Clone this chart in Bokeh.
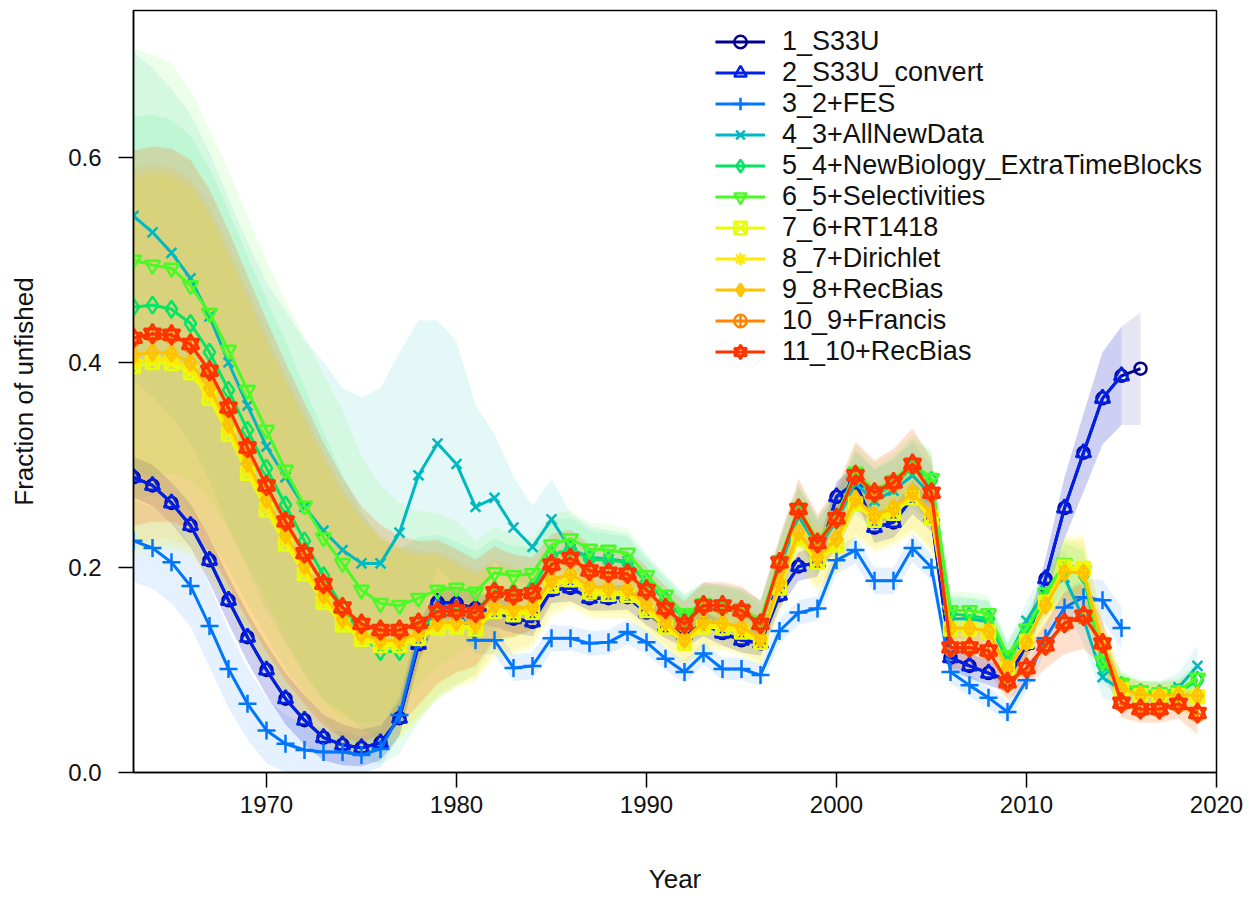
from bokeh.plotting import figure
from bokeh.models import Range1d, FixedTicker, PrintfTickFormatter, Legend, LegendItem
from bokeh.embed import file_html
from bokeh.resources import INLINE

years = list(range(1963, 2020))

labels = ["1_S33U", "2_S33U_convert", "3_2+FES", "4_3+AllNewData",
          "5_4+NewBiology_ExtraTimeBlocks", "6_5+Selectivities", "7_6+RT1418",
          "8_7+Dirichlet", "9_8+RecBias", "10_9+Francis", "11_10+RecBias"]
colors = ["#000091", "#0020E6", "#0076FC", "#00B8BF", "#04E465", "#49FB25",
          "#E7FD09", "#FEEA02", "#FFC200", "#FF8500", "#FF3300"]

# fraction of unfished, one list per model (1963 onward)
frac_1 = [0.288, 0.280, 0.263, 0.241, 0.207, 0.168, 0.132, 0.100, 0.072, 0.051,
          0.034, 0.027, 0.024, 0.029, 0.053, 0.125, 0.166, 0.165, 0.160, 0.157,
          0.150, 0.147, 0.178, 0.180, 0.170, 0.170, 0.171, 0.156, 0.143, 0.134,
          0.145, 0.136, 0.129, 0.126, 0.173, 0.201, 0.205, 0.269, 0.283, 0.239,
          0.244, 0.268, 0.250, 0.112, 0.104, 0.097, 0.090, 0.125, 0.189, 0.258,
          0.312, 0.365, 0.387, 0.394]
frac_2 = [0.288, 0.280, 0.263, 0.241, 0.207, 0.168, 0.132, 0.100, 0.072, 0.051,
          0.034, 0.027, 0.024, 0.029, 0.053, 0.125, 0.166, 0.165, 0.160, 0.157,
          0.150, 0.147, 0.178, 0.180, 0.170, 0.170, 0.171, 0.156, 0.143, 0.134,
          0.145, 0.136, 0.129, 0.126, 0.173, 0.201, 0.205, 0.269, 0.283, 0.239,
          0.244, 0.268, 0.250, 0.112, 0.104, 0.097, 0.090, 0.125, 0.189, 0.258,
          0.312, 0.365, 0.387]
frac_3 = [0.226, 0.219, 0.205, 0.182, 0.143, 0.101, 0.067, 0.041, 0.028, 0.022,
          0.020, 0.020, 0.017, 0.023, 0.056, 0.130, 0.162, 0.160, 0.129, 0.129,
          0.102, 0.104, 0.131, 0.131, 0.126, 0.127, 0.137, 0.127, 0.111, 0.098,
          0.116, 0.101, 0.101, 0.095, 0.138, 0.156, 0.160, 0.207, 0.217, 0.187,
          0.187, 0.219, 0.200, 0.098, 0.085, 0.073, 0.059, 0.090, 0.131, 0.161,
          0.171, 0.168, 0.141]
frac_4 = [0.543, 0.527, 0.507, 0.482, 0.445, 0.400, 0.358, 0.318, 0.288, 0.259,
          0.236, 0.217, 0.204, 0.204, 0.234, 0.290, 0.321, 0.301, 0.259, 0.268,
          0.239, 0.220, 0.247, 0.218, 0.210, 0.208, 0.206, 0.186, 0.168, 0.150,
          0.162, 0.160, 0.156, 0.145, 0.200, 0.250, 0.220, 0.245, 0.282, 0.265,
          0.275, 0.290, 0.270, 0.150, 0.150, 0.147, 0.110, 0.148, 0.178, 0.190,
          0.150, 0.093, 0.080, 0.076, 0.076, 0.083, 0.104]
frac_5 = [0.454, 0.456, 0.452, 0.438, 0.410, 0.373, 0.334, 0.297, 0.261, 0.226,
          0.192, 0.161, 0.134, 0.118, 0.118, 0.140, 0.152, 0.155, 0.156, 0.178,
          0.176, 0.180, 0.212, 0.218, 0.208, 0.207, 0.205, 0.186, 0.168, 0.150,
          0.163, 0.161, 0.157, 0.143, 0.205, 0.255, 0.222, 0.246, 0.288, 0.270,
          0.280, 0.298, 0.285, 0.155, 0.153, 0.150, 0.110, 0.137, 0.172, 0.198,
          0.193, 0.105, 0.085, 0.078, 0.077, 0.078, 0.090]
frac_6 = [0.500, 0.495, 0.492, 0.475, 0.448, 0.412, 0.373, 0.334, 0.295, 0.260,
          0.229, 0.204, 0.178, 0.165, 0.163, 0.170, 0.178, 0.180, 0.176, 0.195,
          0.192, 0.194, 0.222, 0.228, 0.218, 0.217, 0.214, 0.192, 0.173, 0.155,
          0.165, 0.163, 0.160, 0.148, 0.207, 0.258, 0.226, 0.250, 0.293, 0.275,
          0.285, 0.302, 0.287, 0.158, 0.158, 0.155, 0.114, 0.140, 0.175, 0.204,
          0.197, 0.109, 0.087, 0.080, 0.078, 0.080, 0.092]
frac_7 = [0.396, 0.400, 0.399, 0.390, 0.365, 0.330, 0.292, 0.256, 0.223, 0.194,
          0.166, 0.144, 0.130, 0.124, 0.124, 0.131, 0.141, 0.142, 0.140, 0.157,
          0.154, 0.156, 0.182, 0.188, 0.176, 0.174, 0.173, 0.158, 0.142, 0.126,
          0.142, 0.141, 0.137, 0.127, 0.180, 0.228, 0.205, 0.222, 0.262, 0.246,
          0.253, 0.268, 0.248, 0.140, 0.140, 0.137, 0.101, 0.128, 0.166, 0.201,
          0.199, 0.125, 0.081, 0.075, 0.074, 0.075, 0.074]
frac_8 = [0.400, 0.404, 0.403, 0.394, 0.369, 0.334, 0.296, 0.260, 0.227, 0.197,
          0.169, 0.147, 0.132, 0.126, 0.126, 0.133, 0.143, 0.144, 0.142, 0.159,
          0.156, 0.158, 0.184, 0.190, 0.178, 0.176, 0.175, 0.160, 0.144, 0.127,
          0.144, 0.143, 0.139, 0.128, 0.182, 0.230, 0.207, 0.224, 0.264, 0.248,
          0.255, 0.270, 0.250, 0.140, 0.140, 0.137, 0.101, 0.127, 0.165, 0.199,
          0.197, 0.125, 0.081, 0.075, 0.074, 0.075, 0.074]
frac_9 = [0.407, 0.410, 0.409, 0.400, 0.375, 0.340, 0.302, 0.266, 0.232, 0.202,
          0.173, 0.150, 0.135, 0.129, 0.129, 0.136, 0.146, 0.147, 0.145, 0.163,
          0.160, 0.162, 0.188, 0.194, 0.182, 0.180, 0.179, 0.164, 0.147, 0.130,
          0.147, 0.146, 0.142, 0.131, 0.185, 0.234, 0.210, 0.228, 0.267, 0.251,
          0.258, 0.273, 0.252, 0.141, 0.141, 0.138, 0.102, 0.127, 0.163, 0.195,
          0.195, 0.126, 0.082, 0.076, 0.075, 0.076, 0.075]
frac_10 = [0.423, 0.427, 0.426, 0.417, 0.391, 0.355, 0.316, 0.279, 0.244, 0.213,
           0.183, 0.160, 0.144, 0.138, 0.138, 0.145, 0.156, 0.157, 0.155, 0.175,
           0.172, 0.174, 0.202, 0.208, 0.196, 0.194, 0.193, 0.177, 0.159, 0.144,
           0.162, 0.162, 0.157, 0.144, 0.204, 0.256, 0.223, 0.247, 0.289, 0.272,
           0.282, 0.300, 0.272, 0.121, 0.121, 0.118, 0.087, 0.101, 0.123, 0.145,
           0.152, 0.125, 0.067, 0.061, 0.061, 0.066, 0.057]
frac_11 = [0.424, 0.428, 0.427, 0.418, 0.392, 0.356, 0.317, 0.280, 0.245, 0.214,
           0.184, 0.161, 0.145, 0.139, 0.139, 0.146, 0.157, 0.158, 0.156, 0.176,
           0.173, 0.175, 0.203, 0.209, 0.197, 0.195, 0.194, 0.178, 0.160, 0.145,
           0.163, 0.163, 0.158, 0.145, 0.205, 0.257, 0.224, 0.248, 0.290, 0.273,
           0.283, 0.301, 0.273, 0.122, 0.122, 0.119, 0.088, 0.102, 0.124, 0.146,
           0.153, 0.126, 0.068, 0.062, 0.062, 0.067, 0.058]

# half-widths of the uncertainty bands
hw_blue = [0.020, 0.020, 0.020, 0.021, 0.022, 0.023, 0.024, 0.025, 0.025, 0.024,
           0.022, 0.020, 0.018, 0.017, 0.017, 0.018, 0.017, 0.016, 0.015, 0.015,
           0.014, 0.014, 0.013, 0.013, 0.012, 0.012, 0.012, 0.012, 0.012, 0.012,
           0.012, 0.012, 0.012, 0.012, 0.013, 0.014, 0.014, 0.015, 0.016, 0.015,
           0.015, 0.016, 0.015, 0.012, 0.012, 0.012, 0.012, 0.014, 0.020, 0.030,
           0.038, 0.045, 0.048, 0.055]
hw_fes = [0.040, 0.040, 0.040, 0.040, 0.040, 0.038, 0.035, 0.032, 0.028, 0.025,
          0.022, 0.020, 0.018, 0.018, 0.020, 0.018, 0.016, 0.015, 0.014, 0.014,
          0.013, 0.013, 0.013, 0.012, 0.012, 0.012, 0.012, 0.012, 0.011, 0.011,
          0.011, 0.011, 0.011, 0.011, 0.012, 0.012, 0.012, 0.013, 0.013, 0.013,
          0.013, 0.014, 0.013, 0.011, 0.011, 0.010, 0.010, 0.011, 0.013, 0.016,
          0.018, 0.020, 0.020]
hw_4 = [0.160, 0.160, 0.160, 0.160, 0.160, 0.160, 0.160, 0.160, 0.162, 0.163,
        0.165, 0.158, 0.162, 0.171, 0.176, 0.151, 0.120, 0.120, 0.100, 0.062,
        0.050, 0.040, 0.040, 0.035, 0.030, 0.028, 0.027, 0.025, 0.024, 0.023,
        0.023, 0.023, 0.023, 0.023, 0.025, 0.028, 0.027, 0.028, 0.030, 0.030,
        0.030, 0.032, 0.030, 0.020, 0.020, 0.020, 0.017, 0.018, 0.022, 0.028,
        0.025, 0.020, 0.014, 0.013, 0.013, 0.014, 0.020]
hw_5 = [0.186, 0.186, 0.185, 0.183, 0.180, 0.175, 0.170, 0.165, 0.160, 0.150,
        0.140, 0.130, 0.120, 0.110, 0.100, 0.090, 0.080, 0.070, 0.060, 0.050,
        0.045, 0.040, 0.035, 0.030, 0.028, 0.026, 0.025, 0.022, 0.020, 0.020,
        0.020, 0.020, 0.020, 0.020, 0.022, 0.025, 0.024, 0.025, 0.027, 0.027,
        0.027, 0.028, 0.027, 0.018, 0.018, 0.018, 0.015, 0.016, 0.020, 0.025,
        0.024, 0.018, 0.012, 0.011, 0.011, 0.012, 0.016]
hw_6 = [0.207, 0.205, 0.200, 0.190, 0.180, 0.175, 0.170, 0.165, 0.165, 0.165,
        0.160, 0.150, 0.130, 0.115, 0.100, 0.085, 0.075, 0.065, 0.050, 0.045,
        0.040, 0.035, 0.030, 0.028, 0.026, 0.025, 0.024, 0.022, 0.020, 0.020,
        0.020, 0.020, 0.020, 0.020, 0.022, 0.025, 0.024, 0.025, 0.027, 0.027,
        0.027, 0.028, 0.027, 0.018, 0.018, 0.018, 0.015, 0.016, 0.020, 0.025,
        0.024, 0.018, 0.012, 0.011, 0.011, 0.012, 0.016]
hw_late = [0.183, 0.183, 0.182, 0.180, 0.177, 0.173, 0.168, 0.162, 0.155, 0.147,
           0.138, 0.127, 0.115, 0.103, 0.092, 0.080, 0.070, 0.060, 0.052, 0.045,
           0.040, 0.035, 0.030, 0.028, 0.026, 0.025, 0.024, 0.023, 0.022, 0.022,
           0.023, 0.023, 0.024, 0.023, 0.025, 0.030, 0.028, 0.030, 0.033, 0.032,
           0.033, 0.035, 0.033, 0.020, 0.020, 0.020, 0.017, 0.018, 0.022, 0.030,
           0.032, 0.022, 0.014, 0.013, 0.013, 0.014, 0.020]

series = [
    (frac_1, hw_blue, "circle", 12),
    (frac_2, hw_blue, "triangle", 15),
    (frac_3, hw_fes, "cross", 18),
    (frac_4, hw_4, "x", 14),
    (frac_5, hw_5, "diamond", 17),
    (frac_6, hw_6, "inverted_triangle", 15),
    (frac_7, hw_late, "square_x", 13),
    (frac_8, hw_late, "asterisk", 15),
    (frac_9, hw_late, "diamond_cross", 17),
    (frac_10, hw_late, "circle_cross", 14),
    (frac_11, hw_late, "star6", 17),
]

FONT = "Liberation Sans"

p = figure(width=1249, height=898, output_backend="svg", toolbar_location=None,
           x_range=Range1d(1963, 2020), y_range=Range1d(0, 0.7434),
           min_border_left=133, min_border_right=33, min_border_top=10,
           min_border_bottom=126)
p.xgrid.visible = False
p.ygrid.visible = False
p.outline_line_color = "black"
p.outline_line_width = 1.5
p.background_fill_color = "white"

# bands first
for (vals, hw, m, s), col in zip(series, colors):
    n = len(vals)
    yrs = years[:n]
    lo = [v - h for v, h in zip(vals, hw[:n])]
    hi = [v + h for v, h in zip(vals, hw[:n])]
    p.varea(x=yrs, y1=lo, y2=hi, fill_color=col, fill_alpha=0.1)

items = []
for (vals, hw, m, s), col, lab in zip(series, colors, labels):
    n = len(vals)
    yrs = years[:n]
    rl = p.line(yrs, vals, line_color=col, line_width=3)
    rends = [rl]
    if m == "star6":
        r1 = p.scatter(yrs, vals, marker="triangle", size=s, line_color=col,
                       fill_color=None, line_width=2.6)
        r2 = p.scatter(yrs, vals, marker="inverted_triangle", size=s, line_color=col,
                       fill_color=None, line_width=2.6)
        rends += [r1, r2]
    else:
        r1 = p.scatter(yrs, vals, marker=m, size=s, line_color=col,
                       fill_color=None, line_width=2.5)
        rends.append(r1)
    items.append(LegendItem(label=lab, renderers=rends))

legend = Legend(items=items, location=(572, 395))
legend.label_text_font = FONT
legend.label_text_font_size = "27px"
legend.label_text_color = "#111111"
legend.glyph_width = 50
legend.glyph_height = 31
legend.label_height = 31
legend.spacing = 0
legend.padding = 10
legend.margin = 0
legend.label_standoff = 17
legend.background_fill_alpha = 0
legend.border_line_alpha = 0
p.add_layout(legend)

p.xaxis.ticker = FixedTicker(ticks=[1970, 1980, 1990, 2000, 2010, 2020])
p.yaxis.ticker = FixedTicker(ticks=[0.0, 0.2, 0.4, 0.6])
p.yaxis.formatter = PrintfTickFormatter(format="%.1f")
for ax in (p.xaxis, p.yaxis):
    ax.major_tick_out = 15
    ax.major_tick_in = 0
    ax.minor_tick_out = 0
    ax.minor_tick_in = 0
    ax.axis_line_width = 1.5
    ax.axis_line_color = "black"
    ax.major_tick_line_width = 1.5
    ax.major_tick_line_color = "black"
    ax.major_label_text_font = FONT
    ax.major_label_text_font_size = "24px"
    ax.major_label_text_color = "#111111"
    ax.axis_label_text_font = FONT
    ax.axis_label_text_font_size = "26px"
    ax.axis_label_text_font_style = "normal"
    ax.axis_label_text_color = "#111111"
p.xaxis.axis_label = "Year"
p.yaxis.axis_label = "Fraction of unfished"
p.xaxis.major_label_standoff = 8
p.yaxis.major_label_standoff = 17
p.xaxis.axis_label_standoff = 48
p.yaxis.axis_label_standoff = 26
p.yaxis.major_label_orientation = "horizontal"

open("out.html", "w").write(file_html(p, INLINE))
